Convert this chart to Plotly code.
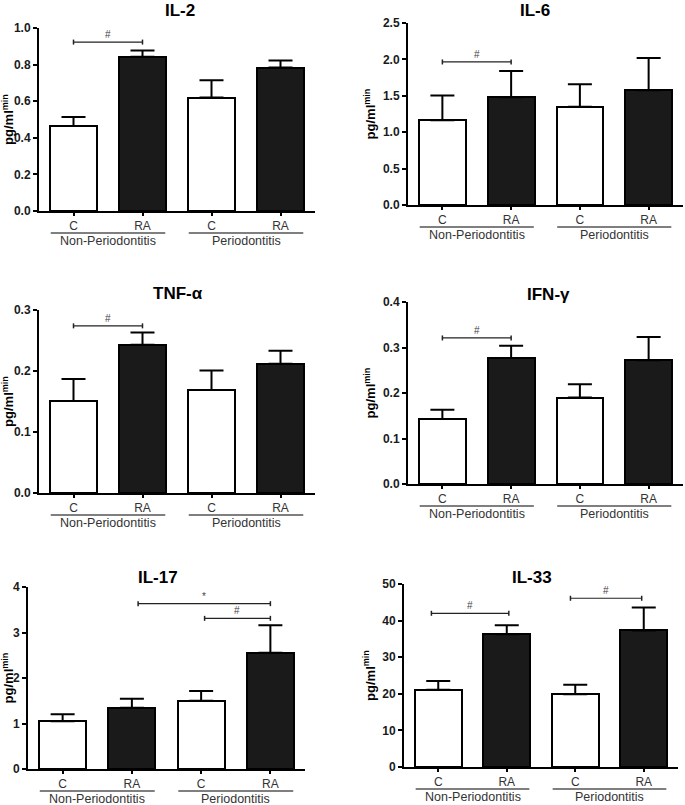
import plotly.graph_objects as go

W, H = 685, 805

categories = ["C", "RA", "C", "RA"]
groups = ["Non-Periodontitis", "Periodontitis"]
panel_titles = ["IL-2", "IL-6", "TNF-α", "IFN-γ", "IL-17", "IL-33"]

il2_mean = [0.464, 0.843, 0.620, 0.784]
il2_err = [0.050, 0.034, 0.095, 0.039]
il6_mean = [1.165, 1.481, 1.348, 1.577]
il6_err = [0.339, 0.361, 0.311, 0.443]
tnf_mean = [0.151, 0.243, 0.169, 0.212]
tnf_err = [0.036, 0.020, 0.032, 0.021]
ifn_mean = [0.143, 0.277, 0.190, 0.272]
ifn_err = [0.020, 0.027, 0.029, 0.051]
il17_mean = [1.048, 1.348, 1.502, 2.557]
il17_err = [0.153, 0.198, 0.212, 0.601]
il33_mean = [21.1, 36.3, 19.9, 37.3]
il33_err = [2.4, 2.4, 2.6, 6.3]

y_max = [1.0, 2.5, 0.3, 0.4, 4, 50]
y_dtick = [0.2, 0.5, 0.1, 0.1, 1, 10]
y_fmt = [".1f", ".1f", ".1f", ".1f", "d", "d"]

# significance brackets: (panel index, from category, to category, y value, label)
brackets = [
    (0, 0, 1, 0.923, "#"),
    (1, 0, 1, 1.965, "#"),
    (2, 0, 1, 0.274, "#"),
    (3, 0, 1, 0.321, "#"),
    (4, 1.09, 3, 3.634, "*"),
    (4, 2.05, 3, 3.311, "#"),
    (5, -0.1, 1.03, 42.0, "#"),
    (5, 1.93, 2.97, 46.1, "#"),
]

means = [il2_mean, il6_mean, tnf_mean, ifn_mean, il17_mean, il33_mean]
errs = [il2_err, il6_err, tnf_err, ifn_err, il17_err, il33_err]

# panel boxes in pixels: left, right, top, bottom
boxes = [
    (39, 315, 28, 211),
    (408, 683, 23, 205),
    (39, 315, 310, 493),
    (408, 683, 302, 484),
    (28, 305, 587, 769),
    (404, 678, 584, 767),
]
title_x = [180, 535, 178, 548, 158, 532]
title_y = [10, 10, 293, 294, 577, 577]

FONT = "Liberation Sans, Arial, sans-serif"
fill_colors = ["#ffffff", "#1a1a1a", "#ffffff", "#1a1a1a"]

fig = go.Figure()
shapes = []
annotations = []

def px_x(x):
    return x / W

def px_y(y):
    return 1 - y / H

for i in range(6):
    sfx = "" if i == 0 else str(i + 1)
    l, r, t, b = boxes[i]
    fig.add_trace(go.Bar(
        x=list(range(4)), y=means[i],
        width=0.68,
        marker=dict(color=fill_colors, line=dict(color="#000000", width=2)),
        error_y=dict(type="data", symmetric=False, array=errs[i],
                     arrayminus=[0] * 4, color="#000000", thickness=2, width=12),
        xaxis="x" + sfx, yaxis="y" + sfx, showlegend=False,
    ))
    fig.layout["xaxis" + sfx] = dict(
        domain=[px_x(l), px_x(r)], anchor="y" + sfx, range=[-0.5, 3.5],
        tickvals=list(range(4)), ticktext=categories, automargin=False,
        ticks="outside", ticklen=3, tickwidth=1.5, tickcolor="#000",
        showline=True, linecolor="#000", linewidth=2, showgrid=False, zeroline=False,
        tickfont=dict(family=FONT, size=12, color="#333"), fixedrange=True,
    )
    fig.layout["yaxis" + sfx] = dict(
        domain=[px_y(b), px_y(t)], anchor="x" + sfx, range=[0, y_max[i]],
        dtick=y_dtick[i], tick0=0, tickformat=y_fmt[i], automargin=False,
        ticks="outside", ticklen=4, tickwidth=2, tickcolor="#000",
        showline=True, linecolor="#000", linewidth=2, showgrid=False, zeroline=False,
        tickfont=dict(family=FONT, size=12, color="#1a1a1a", weight="bold"),
        title=dict(text="pg/ml<sup>min</sup>", standoff=4,
                   font=dict(family=FONT, size=13, color="#000", weight="bold")),
        fixedrange=True,
    )
    annotations.append(dict(
        text="<b>" + panel_titles[i] + "</b>", x=px_x(title_x[i]), y=px_y(title_y[i]),
        xref="paper", yref="paper", showarrow=False, xanchor="center", yanchor="middle",
        font=dict(family=FONT, size=17, color="#000"),
    ))
    # group lines and labels
    for g, (c0, c1) in enumerate([(-0.33, 1.33), (1.67, 3.33)]):
        line_y = px_y(b + 22)
        shapes.append(dict(type="line", xref="x" + sfx, yref="paper",
                           x0=c0, x1=c1, y0=line_y, y1=line_y,
                           line=dict(color="#555", width=1.3)))
        annotations.append(dict(
            text=groups[g], x=(c0 + c1) / 2, y=px_y(b + 30), xref="x" + sfx, yref="paper",
            showarrow=False, xanchor="center", yanchor="middle",
            font=dict(family=FONT, size=12.5, color="#333"),
        ))

for (p, a, c, yv, lab) in brackets:
    sfx = "" if p == 0 else str(p + 1)
    l, r, t, b = boxes[p]
    dy = y_max[p] / (b - t) * 2.5
    shapes.append(dict(type="line", xref="x" + sfx, yref="y" + sfx,
                       x0=a, x1=c, y0=yv, y1=yv, line=dict(color="#222", width=1.2)))
    for xe in (a, c):
        shapes.append(dict(type="line", xref="x" + sfx, yref="y" + sfx,
                           x0=xe, x1=xe, y0=yv - dy, y1=yv + dy,
                           line=dict(color="#222", width=1.5)))
    annotations.append(dict(
        text=lab, x=(a + c) / 2, y=yv, xref="x" + sfx, yref="y" + sfx,
        showarrow=False, xanchor="center", yanchor="bottom", yshift=0,
        font=dict(family=FONT, size=10, color="#444"),
    ))

fig.update_layout(
    width=W, height=H, autosize=False,
    margin=dict(l=0, r=0, t=0, b=0, pad=0, autoexpand=False),
    paper_bgcolor="#ffffff", plot_bgcolor="#ffffff",
    shapes=shapes, annotations=annotations, bargap=0,
)

fig.write_html(
    "out.html",
    config={"displayModeBar": False},
    post_script="document.body.style.margin='0';document.body.style.overflow='hidden';",
)
